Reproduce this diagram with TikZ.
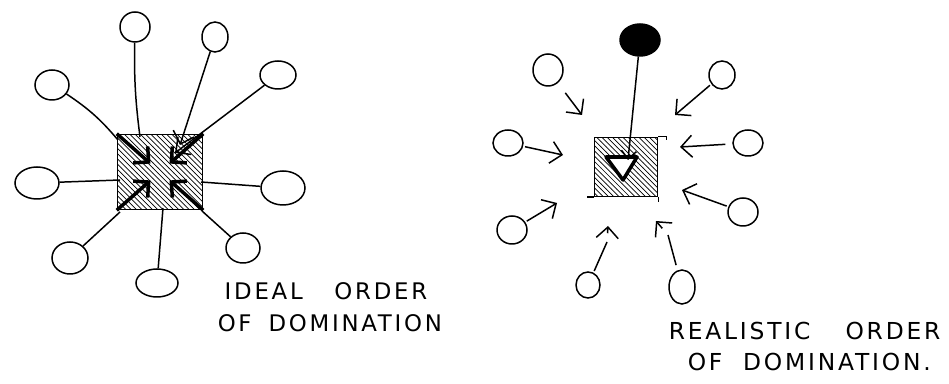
\documentclass[tikz,border=0pt]{standalone}
\usepackage{fontspec}
\newfontfamily\handfont{DejaVu Sans}[LetterSpace=12]
\usetikzlibrary{shapes.geometric,patterns,arrows.meta,calc}

\begin{document}
\begin{tikzpicture}[x=0.02cm,y=-0.02cm,line width=0.85pt,
  blob/.style={draw,ellipse,inner sep=0pt},
  hatchbox/.style={draw,rectangle,pattern=north west lines,inner sep=0pt},
  tip/.style={-{Straight Barb[length=2.2mm,width=4.4mm]}},
  heavy/.style={line width=2pt},
  caption/.style={anchor=west,inner sep=0pt,font=\handfont\fontsize{13}{13}\selectfont},
  bigcaption/.style={caption,font=\handfont\fontsize{13.3}{13.3}\selectfont}
]
\useasboundingbox (0,0) rectangle (949,384);

% the ideal order
\node[hatchbox,minimum width=85*0.02cm,minimum height=75*0.02cm] (sqL) at (160,172) {};

\foreach \n/\x/\y/\w/\h in {1/135/27/30/30, 2/215/37/26/30, 3/278/75/36/28,
    4/52/85/34/30, 5/37/183/44/32, 6/283/188/44/34, 7/70/258/36/32,
    8/157/283/42/28, 9/243/248/34/30}
    \node[blob,minimum width=\w*0.02cm,minimum height=\h*0.02cm] (l\n) at (\x,\y) {};

\foreach \n/\x/\y in {1/140/137, 2/180/145, 3/175/153, 4/118/140, 5/120/180,
    6/201/182, 7/120/212, 8/163/208, 9/202/211}
    \coordinate (le\n) at (\x,\y);

\foreach \n/\b in {1/-4, 4/8, 5/0, 6/0, 7/0, 8/0, 9/0}
    \draw (l\n) to[bend left=\b] (le\n);
\foreach \n in {2,3}
    \draw[tip] (l\n) -- (le\n);

% the converging arrows inside
\foreach \c in {north west,north east,south west,south east}
    \draw[heavy,tip] (sqL.\c) -- ($(sqL.center)!0.22!(sqL.\c)$);

% the realistic order
\node[hatchbox,minimum width=63*0.02cm,minimum height=59*0.02cm] (sqR) at (626,167) {};
\draw (sqR.north east) -- ++(8,0) -- ++(0,3);
\draw (sqR.south west) -- ++(-7,0);
\draw (sqR.south east) -- ++(0,5);

\node[blob,fill=black,minimum width=40*0.02cm,minimum height=32*0.02cm] (top) at (640,40) {};
\coordinate (rtop) at (628,160);
\draw[heavy,line join=round,fill=white] (606,157) -- (637,157) -- (623,180) -- cycle;
\draw[-{Straight Barb[length=1.6mm,width=3mm]}] (top) -- (rtop);

\foreach \n/\x/\y/\w/\h in {1/548/70/30/32, 2/722/75/26/28, 3/508/143/30/26,
    4/748/143/30/26, 5/512/230/30/28, 6/743/212/30/28, 7/588/285/24/26,
    8/682/287/26/34}
    \node[blob,minimum width=\w*0.02cm,minimum height=\h*0.02cm] (r\n) at (\x,\y) {};

\foreach \n/\x/\y in {1/582/115, 2/675/115, 3/563/155, 4/680/147, 5/557/203,
    6/682/190}
    \coordinate (rt\n) at (\x,\y);
\foreach \n/\g in {1/7pt, 2/1pt, 3/1pt, 4/4pt, 5/1pt, 6/1pt}
    \draw[tip,shorten <=\g] (r\n) -- (rt\n);

% the broken ones at the bottom
\coordinate (rm7) at (607,242);
\coordinate (rt7) at (608,226);
\coordinate (rm8) at (668,235);
\coordinate (rt8) at (656,221);
\draw[shorten <=1pt] (r7) -- (rm7);
\draw[shorten <=3pt] (r8) -- (rm8);
\draw[tip,shorten <=5pt] (rm7) -- (rt7);
\draw[tip,shorten <=5pt] (rm8) -- (rt8);

% captions
\node[caption] (idealA) at (224,291) {IDEAL\hspace{18pt}ORDER};
\node[caption] (idealB) at (217,323) {OF\hspace{4pt} DOMINATION};
\node[bigcaption] (realA) at (668,331) {REALISTIC\hspace{20pt}ORDER};
\node[bigcaption] (realB) at (687,362) {OF\hspace{6pt} DOMINATION.};

\end{tikzpicture}
\end{document}
